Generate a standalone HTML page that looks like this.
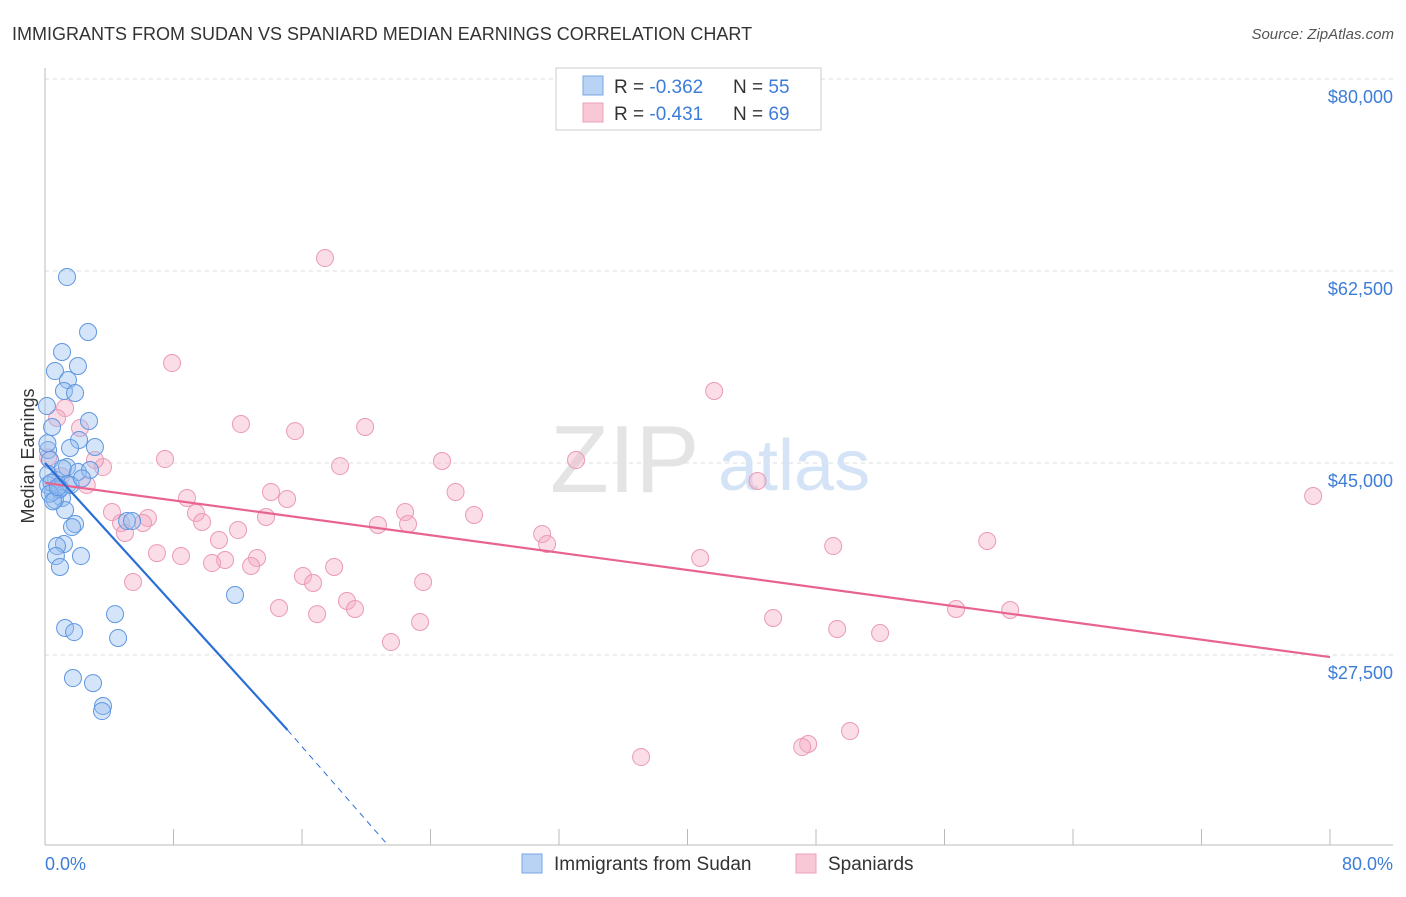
<!DOCTYPE html>
<html><head><meta charset="utf-8"><style>
body{margin:0;background:#fff;font-family:"Liberation Sans",sans-serif;}
svg text{font-family:"Liberation Sans",sans-serif;}
</style></head><body>
<svg width="1406" height="892" viewBox="0 0 1406 892" xmlns="http://www.w3.org/2000/svg">
<text x="12" y="40" font-size="18" fill="#333">IMMIGRANTS FROM SUDAN VS SPANIARD MEDIAN EARNINGS CORRELATION CHART</text>
<text x="1394" y="39" font-size="15" fill="#555" text-anchor="end" font-style="italic">Source: ZipAtlas.com</text>
<g id="grid"></g>
<text x="550" y="492" font-size="96" fill="#e4e4e4" font-family="Liberation Serif">ZIP</text>
<text x="718" y="490" font-size="72" fill="#d4e4f6">atlas</text>
<line x1="45" y1="68" x2="45" y2="845" stroke="#bbb"/>
<line x1="45" y1="845" x2="1393" y2="845" stroke="#bbb"/>
<g id="xticks"></g>
<g id="ylabels"></g>
<text x="45" y="870" font-size="18" fill="#3d7dd8">0.0%</text>
<text x="1393" y="870" font-size="18" fill="#3d7dd8" text-anchor="end">80.0%</text>
<text transform="translate(34,456) rotate(-90)" font-size="18" fill="#333" text-anchor="middle">Median Earnings</text>
<g id="pts"></g>
<g id="lines"></g>
<g>
<rect x="556" y="68" width="265" height="62" fill="#fff" stroke="#ccc"/>
<rect x="583" y="76" width="20" height="19" fill="#b9d3f5" stroke="#7aa6e4"/>
<rect x="583" y="103" width="20" height="19" fill="#f9c8d7" stroke="#eca0b8"/>
<text x="614" y="93" font-size="19" fill="#333">R = <tspan fill="#3d7dd8">-0.362</tspan><tspan x="733">N = </tspan><tspan fill="#3d7dd8">55</tspan></text>
<text x="614" y="120" font-size="19" fill="#333">R = <tspan fill="#3d7dd8"> -0.431</tspan><tspan x="733">N = </tspan><tspan fill="#3d7dd8">69</tspan></text>
</g>
<g>
<rect x="522" y="854" width="20" height="19" fill="#b9d3f5" stroke="#7aa6e4"/>
<text x="554" y="870" font-size="19" fill="#333">Immigrants from Sudan</text>
<rect x="796" y="854" width="20" height="19" fill="#f9c8d7" stroke="#eca0b8"/>
<text x="828" y="870" font-size="19" fill="#333">Spaniards</text>
</g>
</svg>
<script>
const yTicks=[80000,62500,45000,27500];
const yTickLabels=["$80,000","$62,500","$45,000","$27,500"];
const xTicks=[0,8,16,24,32,40,48,56,64,72,80];
const sudanX=[1.37,2.68,1.06,2.05,0.62,1.43,1.18,1.87,0.12,2.74,0.44,2.12,3.11,1.56,0.19,0.31,1.37,2.05,2.80,0.68,1.43,0.19,0.93,0.50,1.06,0.62,1.25,1.87,1.68,5.11,5.42,1.18,0.75,0.68,2.24,0.93,11.83,4.36,1.25,1.81,4.55,1.74,2.99,3.61,3.55,0.2,0.4,0.9,1.6,0.15,0.3,1.1,2.3,0.5,0.8];
const sudanY=[61950,56940,55120,53840,53380,52560,51560,51380,50190,48830,48280,47100,46460,46370,46180,45270,44630,44180,44360,43450,43080,42990,42720,42360,41810,41630,40710,39440,39160,39710,39710,37620,37430,36520,36520,35520,32970,31230,29960,29590,29050,25400,24940,22850,22390,44000,43200,42600,43000,46800,42200,44500,43600,41500,42800];
const spanX=[17.43,7.91,41.66,1.25,0.75,2.18,12.2,19.93,15.57,7.47,24.72,33.06,18.37,3.61,3.11,44.36,78.95,25.56,14.07,8.84,15.07,4.17,22.42,26.71,9.40,13.76,6.41,6.10,4.73,9.78,20.73,22.60,12.02,4.98,30.95,10.83,31.26,49.07,58.66,6.97,8.47,13.2,11.21,10.4,12.83,40.79,18.0,16.06,16.69,5.48,23.54,18.8,19.3,14.57,16.94,56.72,60.09,45.33,23.35,49.32,51.99,21.54,50.12,47.51,47.14,37.11,0.2,1.0,2.6];
const spanY=[63680,54110,51560,50010,49100,48190,48550,48280,47910,45360,45180,45270,44720,44630,45270,43360,41990,42360,42360,41810,41720,40530,40530,40260,40440,40080,39990,39530,39530,39620,39350,39440,38890,38620,38530,37980,37620,37430,37890,36790,36520,36340,36160,35880,35610,36340,35520,34700,34060,34150,34150,32420,31690,31780,31230,31690,31600,30870,30510,29870,29500,28680,20570,19390,19110,18200,45500,43800,43000];
const sudanLine=[[0,45000],[15.1,20660]];
const sudanDash=[[15.1,20660],[21.3,10250]];
const spanLine=[[0,43180],[80,27310]];
const X=v=>45+v*(1330-45)/80;
const Y=v=>79+(80000-v)*(192/17500);
const NS="http://www.w3.org/2000/svg";
function mk(tag,attrs,parent){const e=document.createElementNS(NS,tag);for(const k in attrs)e.setAttribute(k,attrs[k]);document.getElementById(parent).appendChild(e);return e;}
yTicks.forEach((t,i)=>{
 const l=mk('line',{x1:45,x2:1393,y1:Y(t),y2:Y(t),stroke:'#ddd','stroke-dasharray':'4,4'},'grid');
 
 
 const tx=mk('text',{x:1393,y:Y(t)+24,'font-size':18,fill:'#3d7dd8','text-anchor':'end'},'ylabels');
 tx.textContent=yTickLabels[i];
 
 
});
xTicks.forEach(t=>{
 const l=mk('line',{x1:X(t),x2:X(t),y1:829,y2:845,stroke:'#bbb'},'xticks');
 
 
});
spanX.forEach((x,i)=>{
 const c=mk('circle',{cx:X(x),cy:Y(spanY[i]),r:8.5,fill:'rgba(244,170,195,0.4)',stroke:'#eb9ab5','stroke-width':1},'pts');
 
 
});
sudanX.forEach((x,i)=>{
 const c=mk('circle',{cx:X(x),cy:Y(sudanY[i]),r:8.5,fill:'rgba(150,190,240,0.4)',stroke:'#5f97e0','stroke-width':1},'pts');
 
 
});
function ln(p,color,dash,name){
 const l=mk('line',{x1:X(p[0][0]),y1:Y(p[0][1]),x2:X(p[1][0]),y2:Y(p[1][1]),stroke:color,'stroke-width':dash?1:2.2,'stroke-dasharray':dash?'6,5':'none'},'lines');
 
 
}
ln(spanLine,'#e8648f',false,'spaniard-trend-line');
ln(sudanLine,'#2a6fd6',false,'sudan-trend-line');
ln(sudanDash,'#2a6fd6',true,'sudan-trend-extension');
</script>
</body></html>
